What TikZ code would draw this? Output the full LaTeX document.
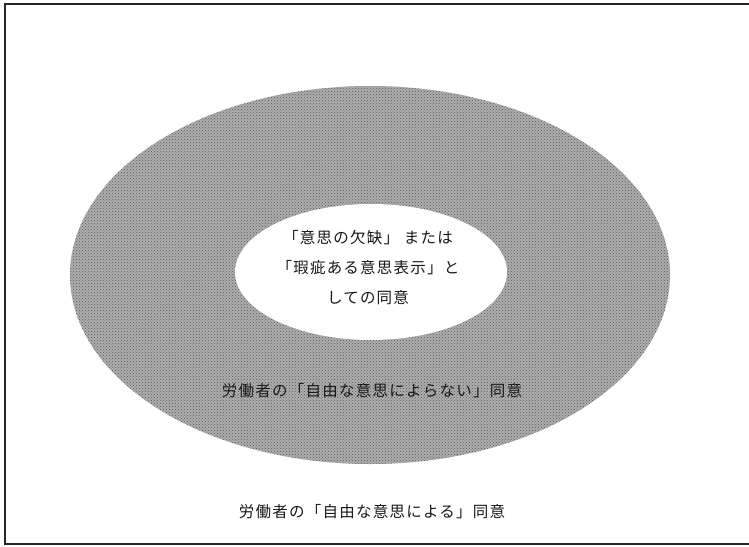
\documentclass[tikz,border=0pt]{standalone}
\usepackage{fontspec}
\setmainfont{Noto Sans CJK JP}[LetterSpace=8]
\usetikzlibrary{patterns,shapes.geometric}
\begin{document}
\begin{tikzpicture}[x=1pt,y=-1pt,
  lbl/.style={font=\fontsize{15.5}{30}\selectfont, text=black!90, inner sep=0pt, align=center},
  region/.style={ellipse, inner sep=0pt, draw=none}]
\useasboundingbox (0,0) rectangle (749,546);
\draw[black!85, line width=2pt] (752,4) -- (5,4) -- (5,544) -- (752,544);
\node[region, fill=black!32, minimum width=600pt, minimum height=378pt] (outer) at (370,275) {};
\node[region, pattern=crosshatch dots, pattern color=black!65, minimum width=600pt, minimum height=378pt] (outerpat) at (370,275) {};
\node[region, fill=white, minimum width=272pt, minimum height=136pt] (inner) at (371,272) {};
\node[lbl] (innertext) at (368,268) {「意思の欠缺」 または\\「瑕疵ある意思表示」と\\しての同意};
\node[lbl] (outertext) at (372,391) {労働者の「自由な意思によらない」同意};
\node[lbl] (bottomtext) at (372,512) {労働者の「自由な意思による」同意};
\end{tikzpicture}
\end{document}
